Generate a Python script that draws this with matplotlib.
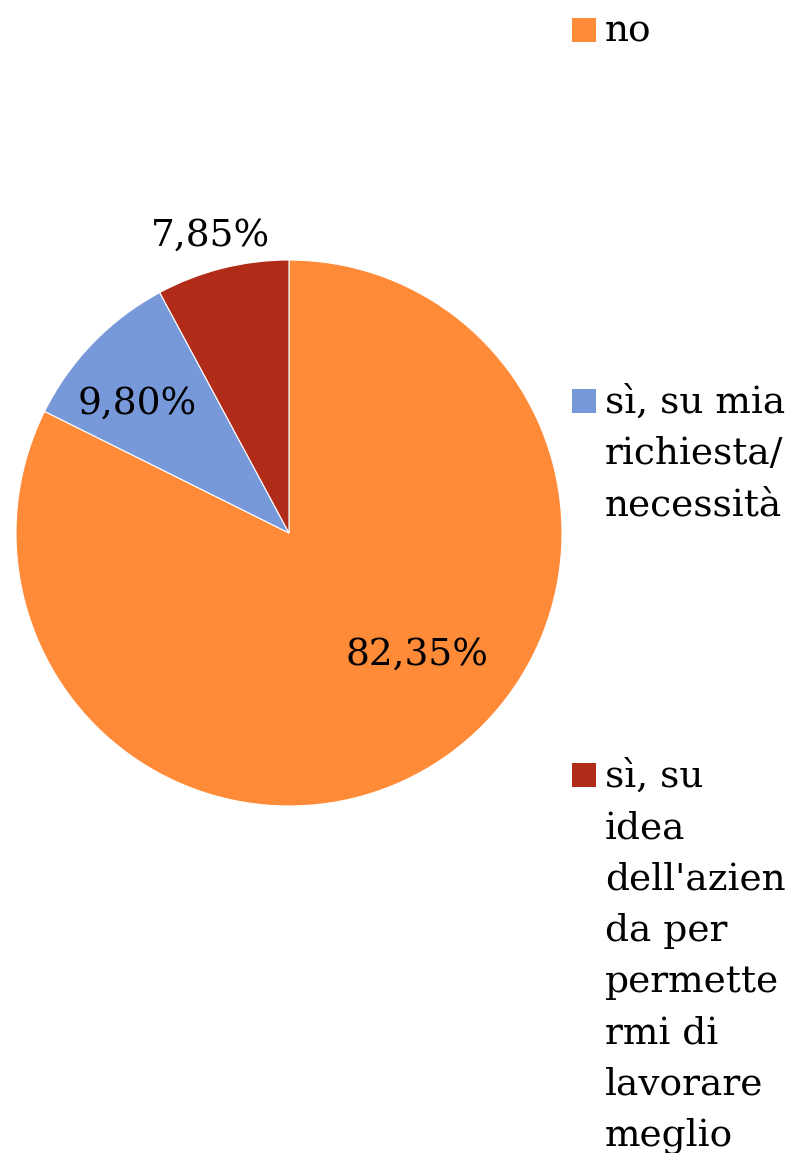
import matplotlib
matplotlib.use("Agg")
import matplotlib.pyplot as plt
from matplotlib.patches import Rectangle

categories = ["no",
              "sì, su mia\nrichiesta/\nnecessità",
              "sì, su\nidea\ndell'azien\nda per\npermette\nrmi di\nlavorare\nmeglio"]
values = [82.35, 9.80, 7.85]
pct_labels = ["82,35%", "9,80%", "7,85%"]
colors = ["#FF8A38", "#7799DA", "#B12B19"]

# label placement (x, y in pie data units) - layout only
label_pos = [(0.469, -0.445), (-0.557, 0.475), (-0.286, 1.09)]
# legend placement: first-line baseline, figure pixels from top - layout only
legend_baseline = [42, 413, 787]
line_step = 51.2

W, H = 801, 1153
fig = plt.figure(figsize=(W / 100, H / 100), dpi=100)
font = "DejaVu Serif"
fs = 27

cx, cy, r = 289, 533, 273
ax = fig.add_axes([(cx - r) / W, (H - cy - r) / H, 2 * r / W, 2 * r / H])
ax.pie(values, colors=colors, startangle=90, counterclock=False, radius=1,
       wedgeprops=dict(edgecolor="white", linewidth=0.8))
ax.set_xlim(-1, 1)
ax.set_ylim(-1, 1)
ax.set_aspect("equal")
ax.axis("off")

for txt, (x, y) in zip(pct_labels, label_pos):
    ax.text(x, y, txt, ha="center", va="center", fontsize=fs, family=font,
            color="black", clip_on=False)

for cat, col, base in zip(categories, colors, legend_baseline):
    fig.patches.append(Rectangle((572 / W, 1 - base / H), 24 / W, 24 / H,
                                 transform=fig.transFigure, facecolor=col,
                                 edgecolor="none"))
    for i, line in enumerate(cat.split("\n")):
        fig.text(605 / W, 1 - (base + i * line_step) / H, line, ha="left",
                 va="baseline", fontsize=fs, family=font)

fig.savefig("out.png", dpi=100)
